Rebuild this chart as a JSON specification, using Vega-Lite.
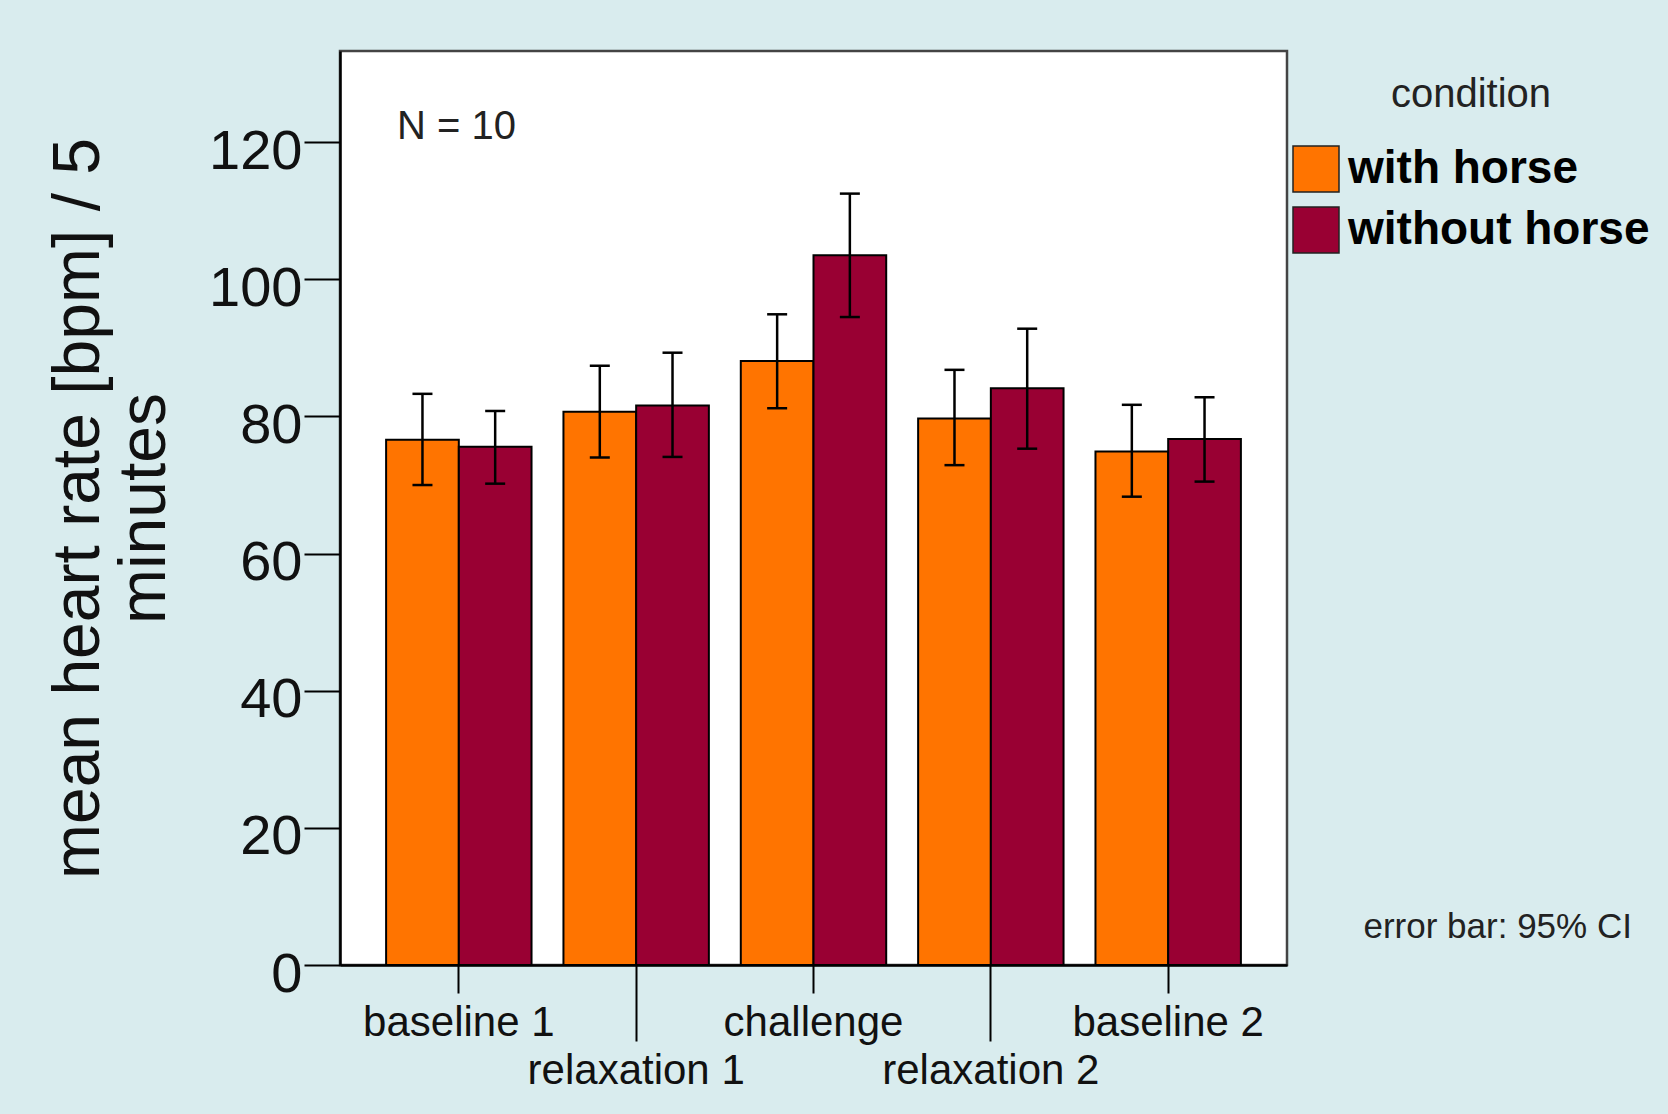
{
  "$schema": "https://vega.github.io/schema/vega-lite/v6.json",
  "width": 947,
  "height": 914,
  "autosize": {"type": "none"},
  "padding": {"left": 340, "top": 51, "right": 381, "bottom": 149},
  "background": "#d9ecee",
  "view": {"fill": "white", "stroke": "#444", "strokeWidth": 2.5},
  "title": {"text": "N = 10", "orient": "top", "anchor": "start", "frame": "group", "offset": -128, "dx": 57, "baseline": "alphabetic", "font": "Liberation Sans", "fontSize": 40, "fontWeight": "normal", "color": "#222"},
  "data": {"values": [
    {"phase": "baseline 1", "condition": "with horse", "mean": 76.6, "lo": 70.0, "hi": 83.3},
    {"phase": "baseline 1", "condition": "without horse", "mean": 75.6, "lo": 70.2, "hi": 80.8},
    {"phase": "relaxation 1", "condition": "with horse", "mean": 80.7, "lo": 74.0, "hi": 87.4},
    {"phase": "relaxation 1", "condition": "without horse", "mean": 81.6, "lo": 74.1, "hi": 89.3},
    {"phase": "challenge", "condition": "with horse", "mean": 88.1, "lo": 81.2, "hi": 94.9},
    {"phase": "challenge", "condition": "without horse", "mean": 103.5, "lo": 94.5, "hi": 112.5},
    {"phase": "relaxation 2", "condition": "with horse", "mean": 79.7, "lo": 72.9, "hi": 86.8},
    {"phase": "relaxation 2", "condition": "without horse", "mean": 84.1, "lo": 75.3, "hi": 92.8},
    {"phase": "baseline 2", "condition": "with horse", "mean": 74.9, "lo": 68.3, "hi": 81.7},
    {"phase": "baseline 2", "condition": "without horse", "mean": 76.7, "lo": 70.5, "hi": 82.8}
  ]},
  "encoding": {
    "x": {
      "field": "phase", "type": "nominal",
      "sort": ["baseline 1", "relaxation 1", "challenge", "relaxation 2", "baseline 2"],
      "scale": {"paddingInner": 0.18, "paddingOuter": 0.26},
      "axis": {
        "title": "error bar: 95% CI", "titleX": 1023, "titleY": -28, "titleAlign": "left", "titleBaseline": "alphabetic", "titleAngle": 0,
        "titleFont": "Liberation Sans", "titleFontSize": 35, "titleFontWeight": "normal", "titleColor": "#222",
        "labelAngle": 0, "labelFont": "Liberation Sans", "labelFontSize": 42, "labelColor": "#111", "labelLimit": 400,
        "labelPadding": 9, "labelBaseline": "top", "labelOverlap": false, "labelBound": false, "labelFlush": false,
        "tickSize": {"condition": {"test": "indexof(datum.value, 'relax') >= 0", "value": 76}, "value": 28},
        "tickColor": "black", "tickWidth": 2, "domainColor": "black", "domainWidth": 2.5, "grid": false
      }
    },
    "xOffset": {"field": "condition", "type": "nominal", "sort": ["with horse", "without horse"], "scale": {"paddingInner": 0, "paddingOuter": 0}}
  },
  "layer": [
    {
      "mark": {"type": "bar", "stroke": "black", "strokeWidth": 2},
      "encoding": {
        "y": {
          "field": "mean", "type": "quantitative",
          "scale": {"domain": [0, 133.3], "nice": false, "zero": true},
          "axis": {
            "values": [0, 20, 40, 60, 80, 100, 120],
            "title": ["mean heart rate [bpm] / 5", "minutes"],
            "titleFont": "Liberation Sans", "titleFontSize": 66, "titleFontWeight": "normal", "titleColor": "#111",
            "titleLineHeight": 66, "titlePadding": 30,
            "labelFont": "Liberation Sans", "labelFontSize": 56, "labelColor": "#111", "labelPadding": 2, "labelOffset": 9,
            "tickSize": 36, "tickColor": "black", "tickWidth": 2, "domainColor": "black", "domainWidth": 2.5, "grid": false
          }
        },
        "color": {
          "field": "condition", "type": "nominal",
          "scale": {"domain": ["with horse", "without horse"], "range": ["#ff7400", "#990033"]},
          "legend": {
            "orient": "none", "legendX": 952, "legendY": 24, "padding": 0,
            "title": "condition", "titleFont": "Liberation Sans", "titleFontSize": 40, "titleFontWeight": "normal", "titleColor": "#222",
            "titleAnchor": "middle", "titlePadding": 30,
            "labelFont": "Liberation Sans", "labelFontSize": 46, "labelFontWeight": "bold", "labelColor": "black", "labelOffset": 8, "labelLimit": 500,
            "symbolType": "square", "symbolSize": 2116, "symbolStrokeColor": "#222", "symbolStrokeWidth": 1.5, "symbolOpacity": 1,
            "rowPadding": 9
          }
        }
      }
    },
    {
      "mark": {"type": "rule", "color": "black", "strokeWidth": 2.5},
      "encoding": {
        "y": {"field": "lo", "type": "quantitative"},
        "y2": {"field": "hi"}
      }
    },
    {
      "mark": {"type": "tick", "color": "black", "thickness": 2.5, "size": 20, "opacity": 1},
      "encoding": {"y": {"field": "lo", "type": "quantitative"}}
    },
    {
      "mark": {"type": "tick", "color": "black", "thickness": 2.5, "size": 20, "opacity": 1},
      "encoding": {"y": {"field": "hi", "type": "quantitative"}}
    }
  ]
}
